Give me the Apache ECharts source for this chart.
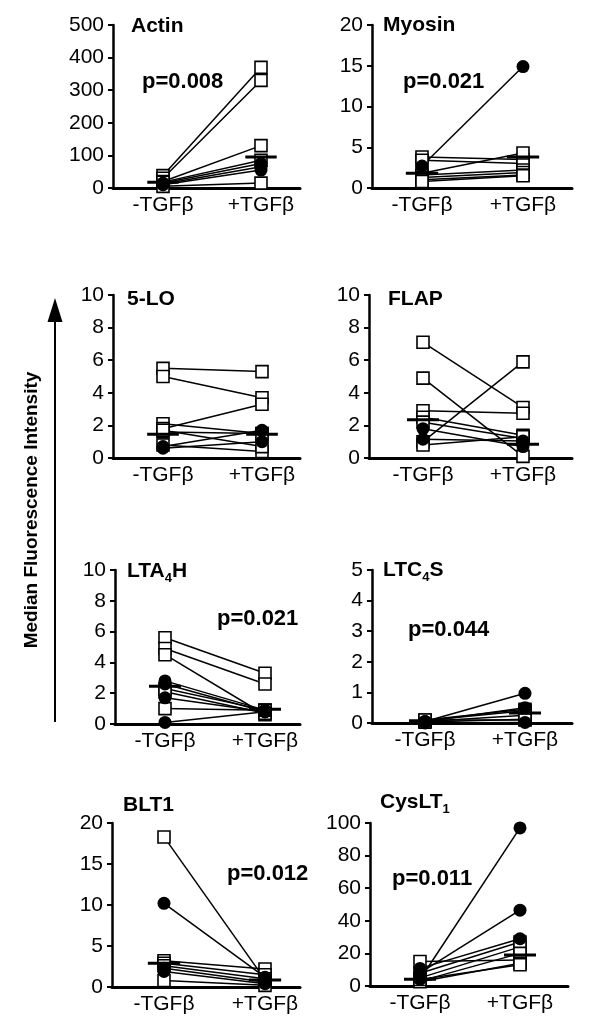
<!DOCTYPE html>
<html><head><meta charset="utf-8">
<script src="https://cdn.jsdelivr.net/npm/echarts@6/dist/echarts.min.js"></script>
<style>html,body{margin:0;padding:0;background:#fff}#c{width:600px;height:1033px}</style>
</head><body><div id="c"></div>
<script>
// ---------- DATA ----------
const groups = ['-TGFβ', '+TGFβ'];
const panelTitles = ['{a|Actin}', '{a|Myosin}', '{a|5-LO}', '{a|FLAP}', '{a|LTA}{s|4}{a|H}', '{a|LTC}{s|4}{a|S}', '{a|BLT1}', '{a|CysLT}{s|1}'];
const pValues = ['p=0.008', 'p=0.021', null, null, 'p=0.021', 'p=0.044', 'p=0.012', 'p=0.011'];
const yMax = [500, 20, 10, 10, 10, 5, 20, 100];
const yStep = [100, 5, 2, 2, 2, 1, 5, 20];

const actinPre  = [38, 30, 20, 18, 15, 12, 10, 5];
const actinPost = [370, 330, 130, 85, 75, 65, 55, 15];
const actinMark = ['s','s','s','s','c','c','c','s'];

const myosinPre  = [2.7, 3.8, 3.4, 1.8, 1.6, 1.3, 1.0, 0.8];
const myosinPost = [14.9, 3.5, 3.0, 4.3, 2.2, 1.9, 1.6, 1.5];
const myosinMark = ['c','s','s','s','s','s','s','s'];

const loPre  = [5.5, 5.0, 2.1, 1.8, 1.6, 0.7, 0.8, 0.6, 1.7];
const loPost = [5.3, 3.7, 1.5, 3.3, 1.5, 1.7, 0.4, 1.0, 0.7];
const loMark = ['s','s','s','s','s','c','s','c','s'];

const flapPre  = [7.1, 4.9, 2.9, 2.5, 2.2, 1.8, 1.15, 1.0, 0.8];
const flapPost = [3.1, 0.1, 2.75, 1.4, 1.2, 0.7, 1.05, 5.9, 1.3];
const flapMark = ['s','s','s','s','s','c','c','s','s'];

const lta4hPre  = [5.6, 4.9, 4.5, 2.8, 2.6, 2.3, 2.1, 1.7, 1.0, 0.1];
const lta4hPost = [3.3, 2.6, 0.6, 0.9, 0.8, 0.9, 0.7, 0.8, 0.9, 0.8];
const lta4hMark = ['s','s','s','c','c','s','s','c','s','c'];

const ltc4sPre  = [0.05, 0.05, 0.1, 0.08, 0.05, 0.03, 0.0, 0.1];
const ltc4sPost = [0.97, 0.5, 0.45, 0.4, 0.25, 0.12, 0.02, 0.1];
const ltc4sMark = ['c','c','s','s','s','s','c','s'];

const blt1Pre  = [18.3, 10.2, 3.2, 2.9, 2.6, 2.3, 1.9, 0.8];
const blt1Post = [0.9, 1.2, 2.2, 1.5, 1.0, 0.6, 0.4, 0.2];
const blt1Mark = ['s','c','s','s','s','c','c','s'];

const cysPre  = [4, 8, 10.8, 15, 7.8, 5, 3, 2.6, 4];
const cysPost = [97, 46.5, 29, 16, 27, 24, 20, 14, 13];
const cysMark = ['c','c','c','s','s','s','s','s','s'];

const medians = [[18, 95], [1.8, 3.8], [1.45, 1.45], [2.35, 0.85], [2.45, 0.95], [0.07, 0.33], [2.9, 0.85], [4.1, 19]];

const panelData = [
  [actinPre, actinPost, actinMark], [myosinPre, myosinPost, myosinMark],
  [loPre, loPost, loMark], [flapPre, flapPost, flapMark],
  [lta4hPre, lta4hPost, lta4hMark], [ltc4sPre, ltc4sPost, ltc4sMark],
  [blt1Pre, blt1Post, blt1Mark], [cysPre, cysPost, cysMark]
];

// ---------- LAYOUT ----------
const layout = [
  {left:113, top:25,  right:300, bottom:188, c0:163, c1:261, tx:131, ty:16,  px:142, py:82},
  {left:372, top:25,  right:572, bottom:188, c0:422, c1:523, tx:383, ty:15,  px:403, py:82},
  {left:113, top:295, right:300, bottom:458, c0:163, c1:262, tx:127, ty:289},
  {left:369, top:295, right:572, bottom:458, c0:423, c1:523, tx:388, ty:289},
  {left:115, top:570, right:300, bottom:724, c0:165, c1:265, tx:127, ty:561, px:217, py:619},
  {left:372, top:570, right:572, bottom:723, c0:425, c1:525, tx:383, ty:560, px:408, py:630},
  {left:112, top:823, right:300, bottom:987, c0:164, c1:265, tx:123, ty:795, px:227, py:874},
  {left:370, top:823, right:568, bottom:986, c0:420, c1:520, tx:380, ty:792, px:392, py:879}
];
const FONT = '"Liberation Sans", Arial, sans-serif';
const HALF = 0.16;

const grids = [], xAxes = [], yAxes = [], series = [], graphics = [];
layout.forEach((L, i) => {
  grids.push({left: L.left, top: L.top, width: L.right - L.left, height: L.bottom - L.top, containLabel: false, outerBoundsMode: 'none'});
  const u = L.c1 - L.c0;
  xAxes.push({
    gridIndex: i, type: 'value',
    min: -(L.c0 - L.left) / u, max: 1 + (L.right - L.c1) / u,
    axisLine: {show: true, onZero: false, lineStyle: {color: '#000', width: 3}},
    axisTick: {show: false}, splitLine: {show: false},
    axisLabel: {customValues: [0, 1], formatter: v => groups[Math.round(v)], color: '#000', fontSize: 21, fontFamily: FONT, margin: 7}
  });
  yAxes.push({
    gridIndex: i, type: 'value', min: 0, max: yMax[i], interval: yStep[i],
    axisLine: {show: true, onZero: false, lineStyle: {color: '#000', width: 2.5}},
    axisTick: {show: true, length: 5, lineStyle: {color: '#000', width: 2}},
    splitLine: {show: false},
    axisLabel: {color: '#000', fontSize: 21, fontFamily: FONT, margin: 9}
  });
  const [pre, post, mark] = panelData[i];
  pre.forEach((v, j) => {
    series.push({type: 'line', xAxisIndex: i, yAxisIndex: i, data: [[0, v], [1, post[j]]],
      showSymbol: false, lineStyle: {color: '#000', width: 1.5}, z: 2, silent: true, animation: false});
  });
  const sq = [], dot = [];
  pre.forEach((v, j) => {
    const arr = mark[j] === 's' ? sq : dot;
    arr.push([0, v]); arr.push([1, post[j]]);
  });
  series.push({type: 'scatter', xAxisIndex: i, yAxisIndex: i, data: sq, symbol: 'rect', symbolSize: 12,
    itemStyle: {color: '#fff', borderColor: '#000', borderWidth: 1.6, opacity: 1}, z: 3, silent: true, animation: false});
  series.push({type: 'scatter', xAxisIndex: i, yAxisIndex: i, data: dot, symbol: 'circle', symbolSize: 13,
    itemStyle: {color: '#000', opacity: 1}, z: 3, silent: true, animation: false});
  medians[i].forEach((m, k) => {
    series.push({type: 'line', xAxisIndex: i, yAxisIndex: i, data: [[k - HALF, m], [k + HALF, m]],
      showSymbol: false, lineStyle: {color: '#000', width: 3}, z: 4, silent: true, animation: false});
  });
  graphics.push({type: 'text', x: L.tx, y: L.ty, silent: true, style: {
    text: panelTitles[i], align: 'left', verticalAlign: 'top',
    rich: {a: {fontSize: 21, fontWeight: 'bold', fontFamily: FONT, lineHeight: 20, verticalAlign: 'top', fill: '#000', color: '#000'},
           s: {fontSize: 13, fontWeight: 'bold', fontFamily: FONT, lineHeight: 13, padding: [11, 0, 0, 0], verticalAlign: 'top', fill: '#000', color: '#000'}}
  }});
  if (pValues[i]) {
    graphics.push({type: 'text', x: L.px, y: L.py, silent: true, style: {
      text: pValues[i], fontSize: 22, fontWeight: 'bold', fontFamily: FONT, fill: '#000', align: 'left', verticalAlign: 'middle'}});
  }
});

graphics.push({type: 'line', silent: true, shape: {x1: 55, y1: 318, x2: 55, y2: 722}, style: {stroke: '#000', lineWidth: 2}});
graphics.push({type: 'polygon', silent: true, shape: {points: [[55, 298], [47.5, 322], [62.5, 322]]}, style: {fill: '#000'}});
graphics.push({type: 'text', x: 32, y: 510, rotation: Math.PI / 2, silent: true, style: {
  text: 'Median Fluorescence Intensity', fontSize: 19, fontWeight: 'bold', fontFamily: FONT, fill: '#000', align: 'center', verticalAlign: 'middle'}});

const chart = echarts.init(document.getElementById('c'), null, {renderer: 'canvas'});
chart.setOption({
  animation: false, backgroundColor: '#fff',
  grid: grids, xAxis: xAxes, yAxis: yAxes, series: series, graphic: graphics
});
</script></body></html>
